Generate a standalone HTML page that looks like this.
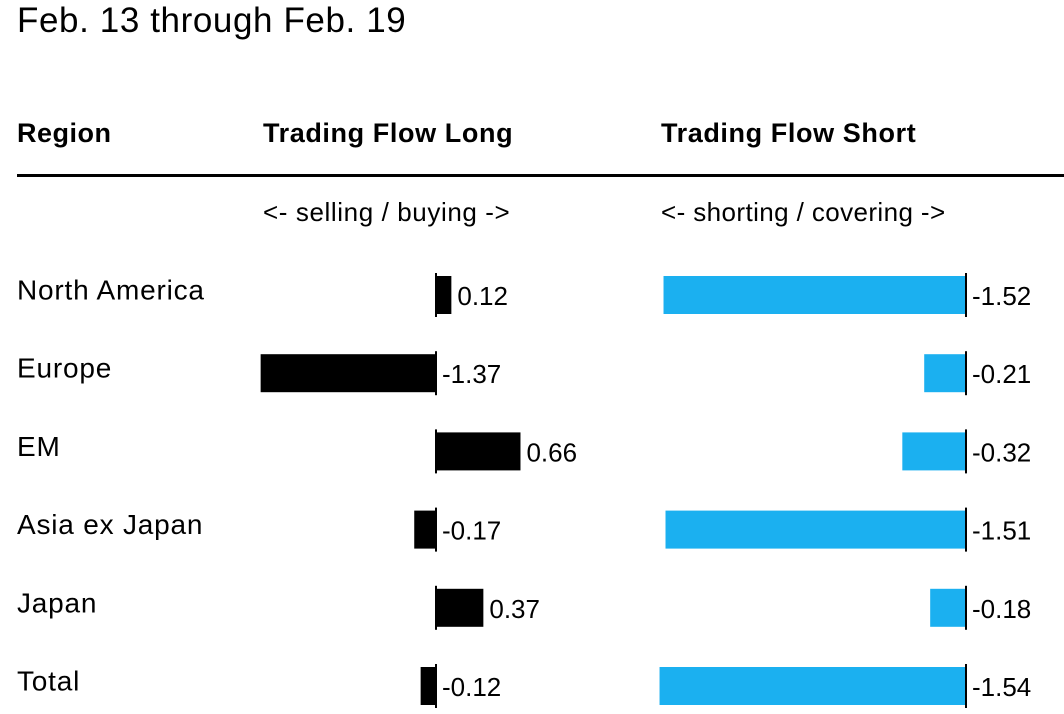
<!DOCTYPE html>
<html><head><meta charset="utf-8"><style>
body{margin:0;background:#fff;width:1064px;height:714px;overflow:hidden;font-family:"Liberation Sans",sans-serif;color:#000}
.t{position:absolute;white-space:nowrap}
</style></head><body>
<div class="t" style="left:17px;top:1px;font-size:35px;letter-spacing:0.6px">Feb. 13 through Feb. 19</div>
<div class="t" style="left:17px;top:118px;font-size:27px;font-weight:bold;letter-spacing:0.5px">Region</div>
<div class="t" style="left:263px;top:118px;font-size:27px;font-weight:bold;letter-spacing:0.6px">Trading Flow Long</div>
<div class="t" style="left:661px;top:118px;font-size:27px;font-weight:bold;letter-spacing:0.6px">Trading Flow Short</div>
<div style="position:absolute;left:17px;top:174px;width:1047px;height:3px;background:#000"></div>
<div class="t" style="left:263px;top:197px;font-size:26px;letter-spacing:0.6px">&lt;- selling / buying -&gt;</div>
<div class="t" style="left:661px;top:197px;font-size:26px;letter-spacing:0.4px">&lt;- shorting / covering -&gt;</div>
<svg id="c" width="1064" height="714" style="position:absolute;left:0;top:0"></svg>
<script>
const regions=["North America","Europe","EM","Asia ex Japan","Japan","Total"];
const longVals=[0.12,-1.37,0.66,-0.17,0.37,-0.12];
const shortVals=[-1.52,-0.21,-0.32,-1.51,-0.18,-1.54];
const svg=document.getElementById('c');const NS="http://www.w3.org/2000/svg";
const rowY=i=>295+i*78.2;
const longX=v=>436+v*128;
const shortX=v=>966+v*199;
function mk(tag,a){const e=document.createElementNS(NS,tag);for(const k in a)e.setAttribute(k,a[k]);svg.appendChild(e);return e;}
function txt(x,y,s,name,fs,ls){const e=mk('text',{x:x,y:y,'font-size':fs,'letter-spacing':ls,'font-family':'Liberation Sans, sans-serif','dominant-baseline':'central'});e.textContent=s;


return e;}
function fmt(v){return v.toFixed(2);}
regions.forEach((r,i)=>{
 const y=rowY(i);
 txt(17,y-5,r,'row-label',28,0.8);
 const l=longVals[i],x0=longX(0),x1=longX(l);
 const b=mk('rect',{x:Math.min(x0,x1),y:y-19,width:Math.abs(x1-x0),height:38,fill:'#000'});
 
 
 const z=mk('line',{x1:x0,x2:x0,y1:y-22,y2:y+22,stroke:'#000','stroke-width':2});
 
 
 txt(Math.max(x0,x1)+6,y+1,fmt(l),'long-value',26,0);
 const s=shortVals[i],s0=shortX(0),s1=shortX(s);
 const b2=mk('rect',{x:Math.min(s0,s1),y:y-19,width:Math.abs(s1-s0),height:38,fill:'#1bb0f0'});
 
 
 const z2=mk('line',{x1:s0,x2:s0,y1:y-22,y2:y+22,stroke:'#000','stroke-width':2});
 
 
 txt(Math.max(s0,s1)+6,y+1,fmt(s),'short-value',26,0);
});
</script>
</body></html>
